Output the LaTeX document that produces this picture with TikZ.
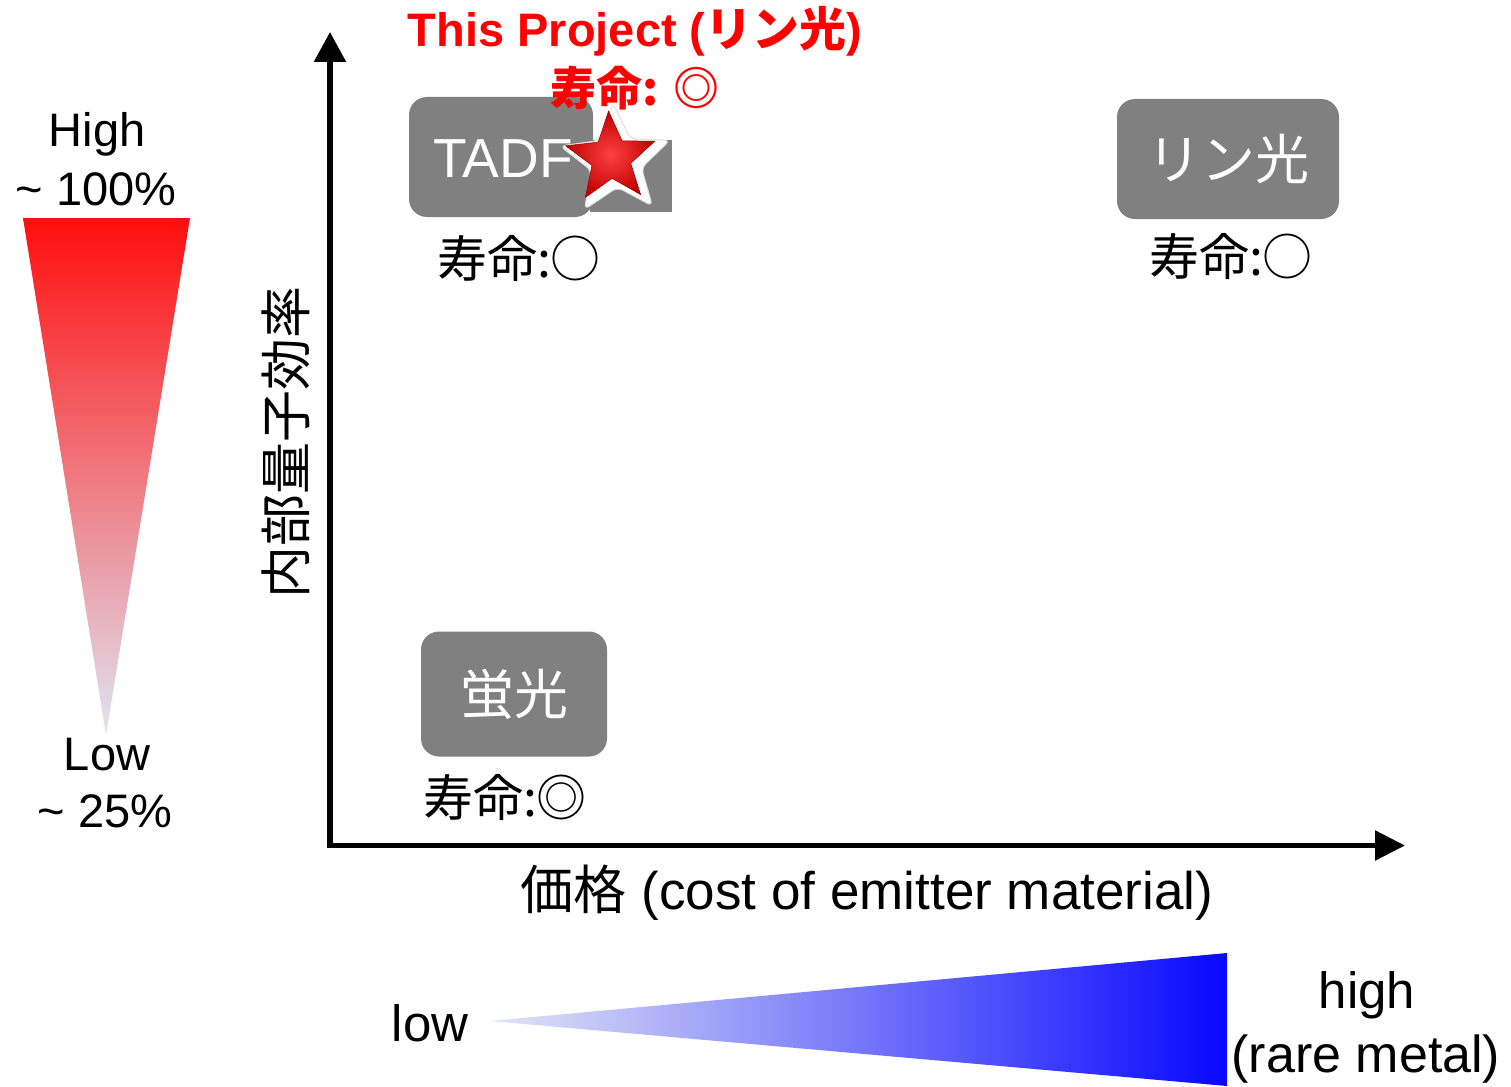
\documentclass[tikz,border=0pt]{standalone}
\usepackage{fontspec}
\setmainfont{Liberation Sans}
\newfontfamily\cjk{Noto Sans CJK JP}
\usetikzlibrary{arrows.meta,shapes.geometric}
\newcommand\myfs[1]{\fontsize{#1}{#1}\selectfont}
\definecolor{boxgray}{RGB}{128,128,128}
\definecolor{topred}{RGB}{255,14,14}
\definecolor{lowlav}{RGB}{224,228,242}
\definecolor{lowblue}{RGB}{226,230,244}
\definecolor{midblue}{RGB}{155,160,248}
\definecolor{hiblue}{RGB}{8,8,255}
\begin{document}
\begin{tikzpicture}[x=1pt,y=-1pt,
  lbl/.style={inner sep=0pt, font=\myfs{47}},
  jlbl/.style={inner sep=0pt, font=\cjk\myfs{50}},
  catbox/.style={fill=boxgray, rounded corners=18pt, inner sep=0pt, text=white},
  axis/.style={line width=5.5pt, line join=miter, {Triangle[width=31pt,length=30pt]}-{Triangle[width=29pt,length=30pt]}},
  redtxt/.style={inner sep=0pt, text=red, font=\bfseries\myfs{47}}]
\useasboundingbox (0,0) rectangle (1511,1086);

% left red gradient triangle
\shade[top color=topred, bottom color=lowlav] (23,218) -- (190,218) -- (106,735) -- cycle;
\node[lbl, anchor=base] (high) at (97,147) {High};
\node[lbl, anchor=base] (hundred) at (96,205) {\char"7E{} 100\%};
\node[lbl, anchor=base] (low) at (107,770) {Low};
\node[lbl, anchor=base] (tf) at (105,827) {\char"7E{} 25\%};

% bottom blue gradient triangle
\shade[left color=lowblue, middle color=midblue, right color=hiblue] (490,1021) -- (1227,953) -- (1227,1086) -- cycle;
\node[lbl, font=\myfs{51}, anchor=base] (lowc) at (430,1041) {low};
\node[lbl, font=\myfs{51}, anchor=base] (highc) at (1367,1008) {high};
\node[lbl, font=\myfs{52}, anchor=base] (rare) at (1366,1072) {(rare metal)};

% axes
\coordinate (origin) at (330,845.5);
\coordinate (ytop) at (330,32);
\coordinate (xend) at (1405,845.5);
\draw[axis] (ytop) -- (origin) -- (xend);
\node[inner sep=0pt, rotate=90, font=\cjk\myfs{52}] (ylab) at (286,442) {内部量子効率};
\node[inner sep=0pt, font=\myfs{53}] (xlab) at (867,893) {{\cjk 価格} (cost of emitter material)};

% category boxes
\node[catbox, minimum width=184pt, minimum height=120pt] (tadf) at (501,157) {};
\node[inner sep=0pt, text=white, font=\myfs{55}, anchor=base] (tadft) at (503,178) {TADF};
\node[catbox, minimum width=222pt, minimum height=120pt, font=\cjk\myfs{54}] (phos) at (1228,159) {リン光};
\node[catbox, minimum width=186pt, minimum height=125pt, font=\cjk\myfs{54}] (fluo) at (514,694) {蛍光};

\node[jlbl] (l1) at (519,258) {寿命:○};
\node[jlbl] (l2) at (1231,256) {寿命:○};
\node[jlbl] (l3) at (505,797) {寿命:◎};

% star with glow
\fill[boxgray] (590,140) rectangle (672,212);
\node[star, star points=5, star point ratio=2.2, minimum size=116pt, fill=white, draw=gray!25, line width=1pt, rounded corners=6pt, rotate=3, inner sep=0pt] (glow) at (616,161) {};
\node[star, star points=5, star point ratio=2.3, minimum size=94pt, inner sep=0pt, rotate=3,
  inner color=red!75!white, outer color=red!75!black, draw=red!60!black, line width=0.5pt] (star) at (611,158) {};

% project labels
\node[redtxt, anchor=base] (proj) at (635,47) {This Project ({\cjk リン光})};
\node[redtxt, font=\bfseries\cjk\myfs{46}] (projlife) at (635,88) {寿命: ◎};
\end{tikzpicture}
\end{document}
